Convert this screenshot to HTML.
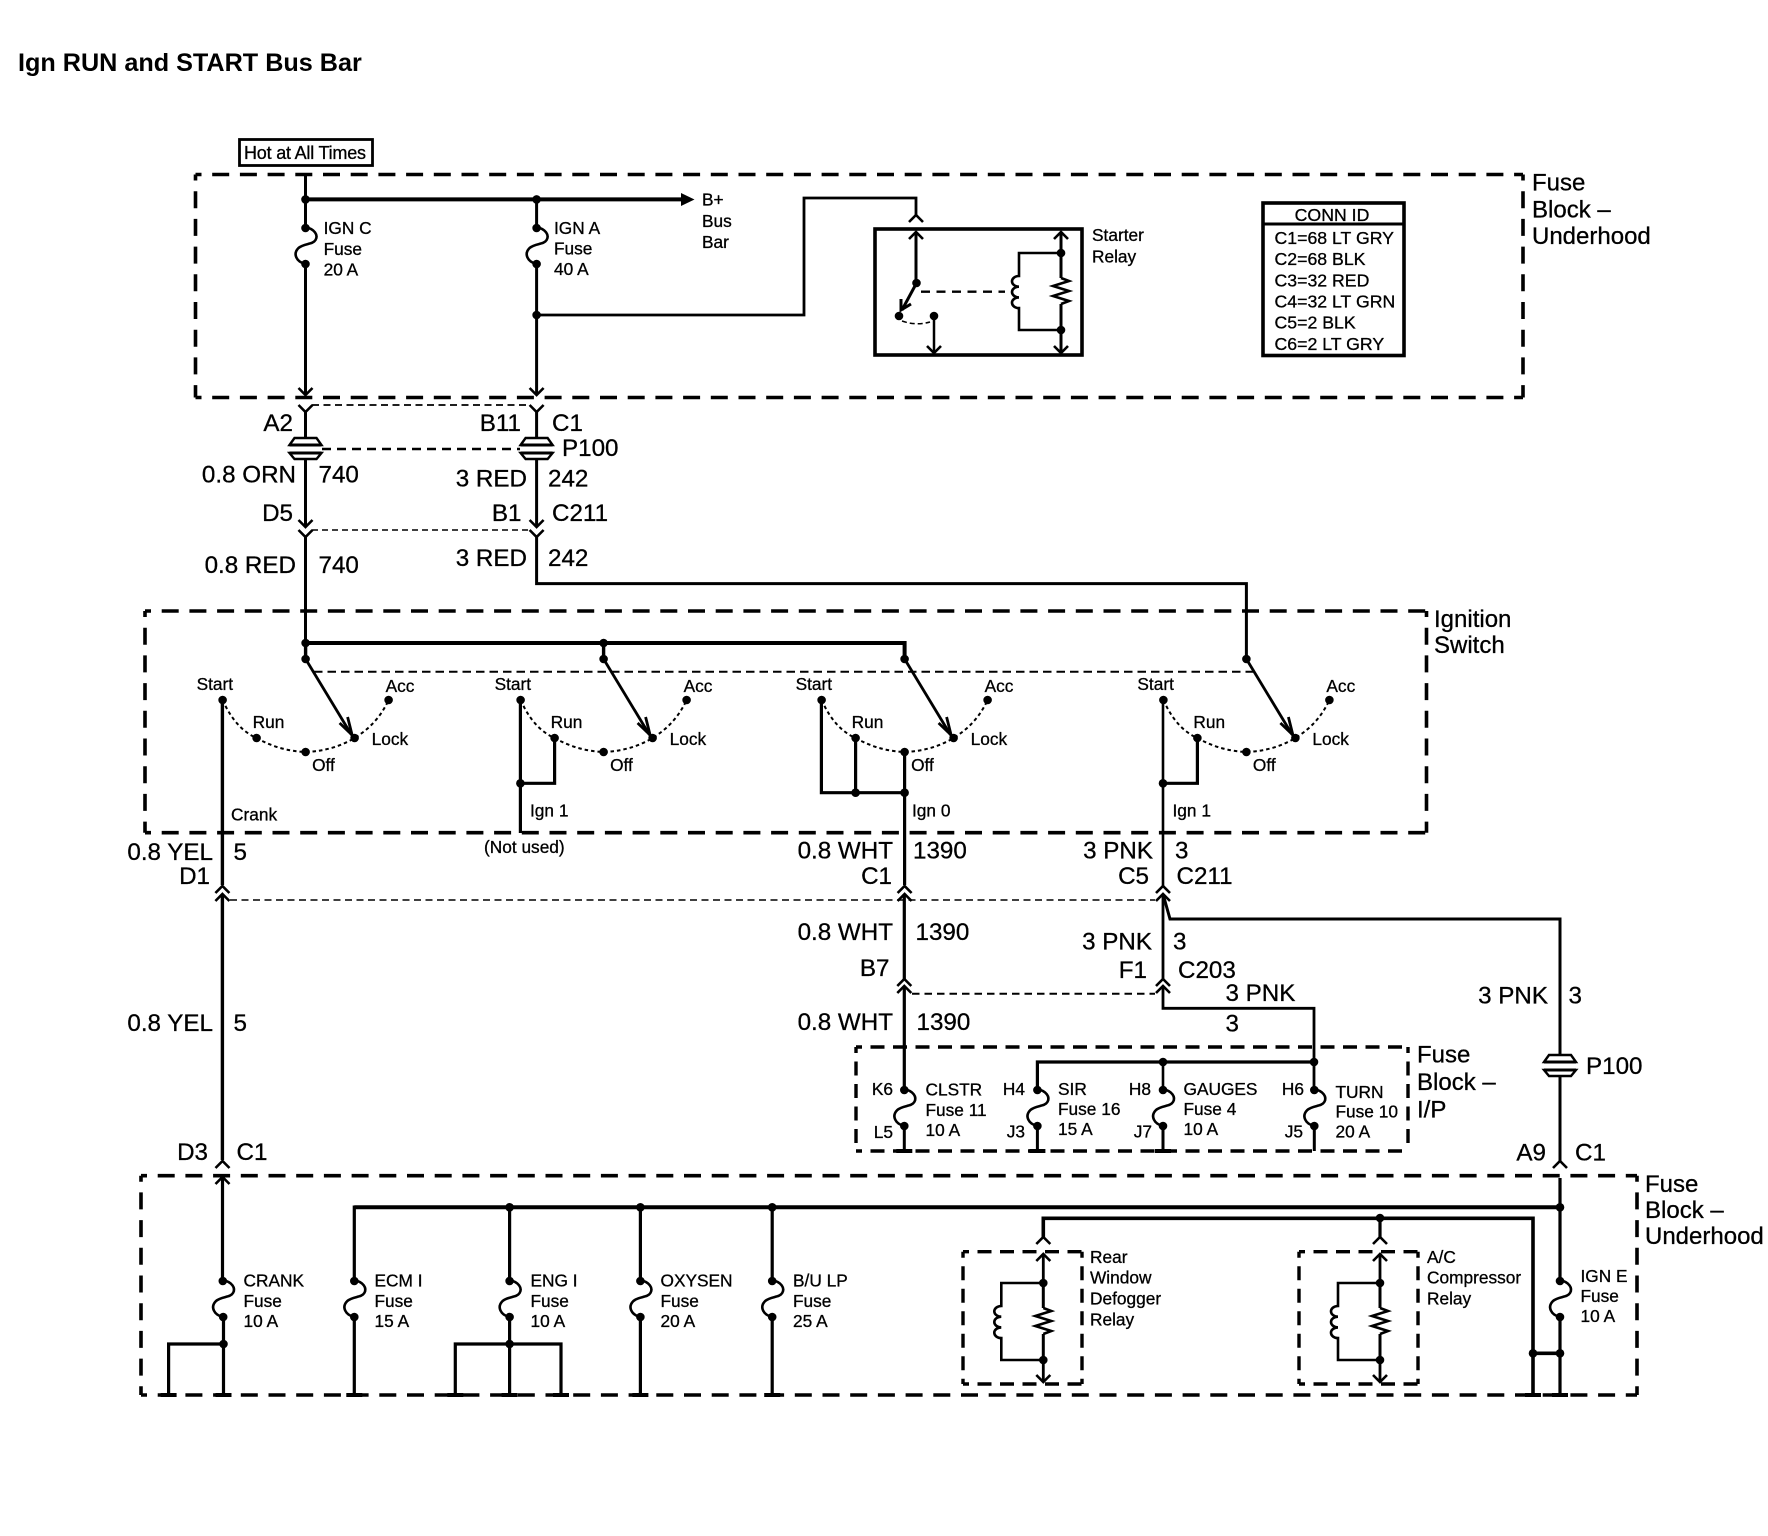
<!DOCTYPE html>
<html><head><meta charset="utf-8"><style>
html,body{margin:0;padding:0;background:#fff}
svg{display:block}
text{font-family:"Liberation Sans",sans-serif;fill:#000;stroke:#000;stroke-width:.3}
.s{font-size:17.3px}.c{font-size:17.7px}.m{font-size:24.2px}.h{font-size:24px}
.e{text-anchor:end}
.t{font-size:25.2px;font-weight:bold;stroke:none}
</style></head><body>
<svg xmlns="http://www.w3.org/2000/svg" width="1768" height="1536" viewBox="0 0 1768 1536">
<defs>
<path id="f" d="M0,-1C9,1 13,7 10,12C7,17 -1,15 -7,20C-13,26 -9,34 0,36" fill="none" stroke="#000" stroke-width="2.6"/>
<path id="u" d="M-7,7L0,0L7,7" fill="none" stroke="#000" stroke-width="2.6"/>
<path id="d" d="M-7,-7L0,0L7,-7" fill="none" stroke="#000" stroke-width="2.6"/>
<path id="y" d="M-7,0L0,7L7,0" fill="none" stroke="#000" stroke-width="2.6"/>
<g id="p"><path d="M-16,445L-11,438H11L16,445Z" fill="#fff" stroke="#000" stroke-width="2.4"/><path d="M-16,453L-11,459H11L16,453Z" fill="#fff" stroke="#000" stroke-width="2.4"/><path d="M-16,445H16M-16,453H16" stroke="#000" stroke-width="3" fill="none"/></g>
<circle id="o" r="4.3" fill="#000"/>
<path id="k" d="M-8,0H8" stroke="#000" stroke-width="4"/>
<g id="sw">
<path d="M-83,700Q-70,729 -49,738Q-26,751 0,752Q27,751 49,738Q72,724 83,700" fill="none" stroke="#000" stroke-width="2" stroke-dasharray="3.5 3"/>
<use href="#o" x="-83" y="700"/><use href="#o" x="-49" y="738"/><use href="#o" x="0" y="752"/><use href="#o" x="49" y="738"/><use href="#o" x="83" y="700"/><use href="#o" x="0" y="659"/>
<path d="M0,659L46,735" fill="none" stroke="#000" stroke-width="2.8"/>
<path d="M34,723L46.5,735L42,717" fill="none" stroke="#000" stroke-width="2.8"/>
<text class="s" x="-109" y="690">Start</text><text class="s" x="-53" y="728">Run</text><text class="s" x="80" y="692">Acc</text><text class="s" x="66" y="745">Lock</text><text class="s" x="6.5" y="771">Off</text>
</g>
<g id="coil">
<path d="M0,-30H-42V-7a7,5.35 0 1 0 0,10.7a7,5.35 0 1 0 0,10.7a7,5.35 0 1 0 0,10.7V47H0" fill="none" stroke="#000" stroke-width="2.6"/>
<path d="M0,-30V-5M0,21V47" fill="none" stroke="#000" stroke-width="3"/>
<path d="M0,-5l8,3l-16,5l16,5l-16,5l16,5l-8,3" fill="none" stroke="#000" stroke-width="2.6"/>
<use href="#o" x="0" y="-30"/><use href="#o" x="0" y="47"/>
</g>
</defs>
<rect width="1768" height="1536" fill="#fff"/>

<text class="t" x="18" y="71">Ign RUN and START Bus Bar</text>

<!-- dashed boxes -->
<g fill="none" stroke="#000" stroke-width="3.6" stroke-dasharray="17 10.7" stroke-dashoffset="11">
<path d="M195.5,174.5H1523M195.5,397.5H1523M195.5,174.5V397.5M1523,174.5V397.5"/>
<path d="M145,611H1426.5M145,832.7H1426.5M145,611V832.7M1426.5,611V832.7"/>
<path d="M141,1175.7H1637M141,1395H1637M141,1175.7V1395M1637,1175.7V1395"/>
</g>
<g fill="none" stroke="#000" stroke-width="3.4" stroke-dasharray="14 8.5" stroke-dashoffset="8">
<path d="M856,1047H1408M856,1151H1408M856,1047V1151M1408,1047V1151"/>
<path d="M963,1251.7H1082M963,1384H1082M963,1251.7V1384M1082,1251.7V1384"/>
<path d="M1299,1251.7H1418M1299,1384H1418M1299,1251.7V1384M1418,1251.7V1384"/>
</g>

<!-- Hot at All Times -->
<rect x="239.5" y="139.5" width="133" height="26" fill="#fff" stroke="#000" stroke-width="2.8"/>
<text x="244" y="159" textLength="122" style="font-size:18px">Hot at All Times</text>

<!-- top block wiring -->
<g fill="none" stroke="#000" stroke-width="3">
<path d="M305.5,174V228M305.5,264V394"/>
<path d="M536.6,199V228M536.6,264V395"/>
<path d="M305.5,199.4H684" stroke-width="4"/>
<path d="M536.6,315H804V198H916V216" stroke-width="2.8"/>
<path d="M305.5,412V438M536.6,412V438M305.5,459V527M536.6,459V527"/>
<path d="M305.5,536V643M536.6,536V583.6H1246.4V659"/>
</g>
<path d="M681,193L694.5,199.5L681,206Z" fill="#000"/>
<use href="#o" x="305.5" y="199.4"/><use href="#o" x="536.6" y="199.4"/><use href="#o" x="536.6" y="315"/>
<use href="#o" x="305.5" y="228"/><use href="#o" x="305.5" y="264"/><use href="#f" x="305.5" y="228"/>
<use href="#o" x="536.6" y="228"/><use href="#o" x="536.6" y="264"/><use href="#f" x="536.6" y="228"/>
<text class="s" x="323.6" y="234">IGN C</text><text class="s" x="323.6" y="255">Fuse</text><text class="s" x="323.6" y="275.5">20 A</text>
<text class="s" x="554" y="234">IGN A</text><text class="s" x="554" y="254.5">Fuse</text><text class="s" x="554" y="275">40 A</text>
<text class="s" x="702" y="205.5">B+</text><text class="s" x="702" y="227">Bus</text><text class="s" x="702" y="248">Bar</text>

<!-- Starter relay -->
<rect x="875" y="229" width="207" height="126" fill="none" stroke="#000" stroke-width="3.6"/>
<use href="#u" x="916" y="215"/><use href="#u" x="916" y="232"/>
<path d="M916,232V283" stroke="#000" stroke-width="3" fill="none"/>
<use href="#o" x="916.5" y="283"/><use href="#o" x="899" y="316"/><use href="#o" x="934" y="316"/>
<path d="M916,284L902,310" stroke="#000" stroke-width="3" fill="none"/>
<path d="M901,299L901,310L911,304" stroke="#000" stroke-width="3" fill="none"/>
<path d="M902,321Q916,326 930,322" fill="none" stroke="#000" stroke-width="1.5" stroke-dasharray="5 3"/>
<path d="M934,316V353" stroke="#000" stroke-width="2.5"/><use href="#d" x="934" y="353"/>
<path d="M921,291.7H1005" stroke="#000" stroke-width="2.4" stroke-dasharray="9 6.5"/>
<path d="M1061,232V253M1061,330V353" stroke="#000" stroke-width="3"/>
<use href="#u" x="1061" y="232"/><use href="#d" x="1061" y="353"/>
<g transform="translate(1061,283)"><use href="#coil"/></g>
<text class="s" x="1092" y="241">Starter</text><text class="s" x="1092" y="262.5">Relay</text>

<!-- CONN ID -->
<rect x="1263" y="203" width="141" height="152.5" fill="none" stroke="#000" stroke-width="3.6"/>
<path d="M1263,224H1404" stroke="#000" stroke-width="3"/>
<text class="c" x="1332" y="221" text-anchor="middle">CONN ID</text>
<text class="c" x="1274.5" y="244">C1=68 LT GRY</text>
<text class="c" x="1274.5" y="265">C2=68 BLK</text>
<text class="c" x="1274.5" y="286.5">C3=32 RED</text>
<text class="c" x="1274.5" y="307.5">C4=32 LT GRN</text>
<text class="c" x="1274.5" y="328.5">C5=2 BLK</text>
<text class="c" x="1274.5" y="350">C6=2 LT GRY</text>

<text class="h" x="1532" y="190.5">Fuse</text><text class="h" x="1532" y="217.5">Block –</text><text class="h" x="1532" y="244">Underhood</text>

<!-- connectors below top block -->
<use href="#d" x="305.5" y="395"/><use href="#d" x="536.6" y="395"/>
<use href="#y" x="305.5" y="405"/><use href="#y" x="536.6" y="405"/>
<path d="M312,405H530" stroke="#000" stroke-width="1.8" stroke-dasharray="7 4.5"/>
<path d="M322,449H520" stroke="#000" stroke-width="2.6" stroke-dasharray="9 6"/>
<use href="#p" x="305.5"/><use href="#p" x="536.6"/>
<text class="m e" x="293" y="431">A2</text><text class="m e" x="521" y="431">B11</text><text class="m" x="552" y="431">C1</text><text class="m" x="562" y="456">P100</text>
<text class="m e" x="296" y="482.5">0.8 ORN</text><text class="m" x="318.5" y="482.5">740</text>
<text class="m e" x="527" y="486.5">3 RED</text><text class="m" x="548" y="486.5">242</text>
<text class="m e" x="293" y="521">D5</text><text class="m e" x="521.5" y="521">B1</text><text class="m" x="552" y="521">C211</text>
<use href="#d" x="305.5" y="527"/><use href="#d" x="536.6" y="527"/>
<use href="#y" x="305.5" y="530"/><use href="#y" x="536.6" y="530"/>
<path d="M312,530H530" stroke="#000" stroke-width="1.5" stroke-dasharray="6 4"/>
<text class="m e" x="296" y="573">0.8 RED</text><text class="m" x="318.5" y="573">740</text>
<text class="m e" x="527" y="566">3 RED</text><text class="m" x="548" y="566">242</text>

<!-- Ignition switch -->
<g fill="none" stroke="#000">
<path d="M305.6,643H904.6V659" stroke-width="4"/>
<path d="M305.6,640V659M603.6,643V659" stroke-width="3.4"/>
<path d="M314,671.7H1253" stroke-width="2" stroke-dasharray="8.5 5"/>
<path d="M222.4,700V885" stroke-width="3.4"/>
<path d="M520.4,700V833M520.4,783.3H554.6V738" stroke-width="3.2"/>
<path d="M821.4,700V792.7H904.6M855.6,738V792.7" stroke-width="3.2"/>
<path d="M904.6,752V885" stroke-width="3.2"/>
<path d="M1163,700V886" stroke-width="2.6"/>
<path d="M1163,783.3H1197.4V738" stroke-width="3.2"/>
</g>
<g transform="translate(305.6,0)"><use href="#sw"/></g>
<g transform="translate(603.6,0)"><use href="#sw"/></g>
<g transform="translate(904.6,0)"><use href="#sw"/></g>
<g transform="translate(1246.4,0)"><use href="#sw"/></g>
<use href="#o" x="305.6" y="643"/><use href="#o" x="603.6" y="643"/>
<use href="#o" x="520.4" y="783.3"/><use href="#o" x="855.6" y="792.7"/><use href="#o" x="904.6" y="792.7"/><use href="#o" x="1163" y="783.3"/>
<text class="s" x="231" y="820.5">Crank</text><text class="s" x="530" y="816.5">Ign 1</text><text class="s" x="484" y="853">(Not used)</text>
<text class="s" x="912" y="816.5">Ign 0</text><text class="s" x="1172.5" y="816.5">Ign 1</text>
<text class="h" x="1434" y="627">Ignition</text><text class="h" x="1434" y="653">Switch</text>

<!-- row under ignition -->
<text class="m e" x="213" y="860">0.8 YEL</text><text class="m" x="233.5" y="860">5</text><text class="m e" x="210" y="884">D1</text>
<text class="m e" x="893" y="858.5">0.8 WHT</text><text class="m" x="913" y="858.5">1390</text><text class="m e" x="892" y="884">C1</text>
<text class="m e" x="1153" y="858.5">3 PNK</text><text class="m" x="1175" y="858.5">3</text><text class="m e" x="1149" y="884">C5</text><text class="m" x="1176.5" y="884">C211</text>
<use href="#u" x="222.4" y="886"/><use href="#u" x="222.4" y="894"/>
<use href="#u" x="904.6" y="886"/><use href="#u" x="904.6" y="894"/>
<use href="#u" x="1163" y="886"/><use href="#u" x="1163" y="894"/>
<path d="M230,900H1155" stroke="#000" stroke-width="1.5" stroke-dasharray="7 4.5"/>
<g fill="none" stroke="#000">
<path d="M222.4,894V1160" stroke-width="3.4"/>
<path d="M904.3,894V979M904.3,986V1090" stroke-width="3.2"/>
<path d="M1163,894V979M1163,986V1008.3H1314V1090" stroke-width="2.8"/>
<path d="M1163,894L1170,919H1560V1056M1560,1075V1161" stroke-width="3"/>
</g>
<text class="m e" x="893" y="940">0.8 WHT</text><text class="m" x="915.5" y="940">1390</text>
<text class="m e" x="1152" y="949.5">3 PNK</text><text class="m" x="1173" y="949.5">3</text>
<text class="m e" x="889.5" y="976">B7</text><text class="m e" x="1147" y="978">F1</text><text class="m" x="1178" y="978">C203</text>
<use href="#u" x="904.3" y="979"/><use href="#u" x="904.3" y="986"/><use href="#u" x="1163" y="979"/><use href="#u" x="1163" y="986"/>
<path d="M912,993.7H1155" stroke="#000" stroke-width="2" stroke-dasharray="7.5 5"/>
<text class="m" x="1225.5" y="1001">3 PNK</text><text class="m" x="1225.5" y="1031.5">3</text>
<text class="m e" x="893" y="1030">0.8 WHT</text><text class="m" x="916.5" y="1030">1390</text>
<text class="m e" x="1548" y="1003.5">3 PNK</text><text class="m" x="1568.5" y="1003.5">3</text>
<text class="m e" x="213" y="1031">0.8 YEL</text><text class="m" x="233.5" y="1031">5</text>
<g transform="translate(1560,617)"><use href="#p"/></g>
<text class="m" x="1586" y="1074">P100</text>

<!-- Fuse block IP -->
<path d="M1037.4,1090V1062H1314" fill="none" stroke="#000" stroke-width="3.2"/>
<path d="M1163,1062V1090" fill="none" stroke="#000" stroke-width="2.6"/>
<path d="M904.3,1126V1151M1037.4,1126V1151M1163,1126V1151M1314.3,1126V1151" stroke="#000" stroke-width="3"/>
<use href="#o" x="1163" y="1062"/><use href="#o" x="1314" y="1062"/>
<use href="#o" x="904.3" y="1090"/><use href="#o" x="904.3" y="1126"/><use href="#f" x="904.3" y="1090"/>
<use href="#o" x="1037.4" y="1090"/><use href="#o" x="1037.4" y="1126"/><use href="#f" x="1037.4" y="1090"/>
<use href="#o" x="1163" y="1090"/><use href="#o" x="1163" y="1126"/><use href="#f" x="1163" y="1090"/>
<use href="#o" x="1314.3" y="1090"/><use href="#o" x="1314.3" y="1126"/><use href="#f" x="1314.3" y="1090"/>
<text class="s e" x="893" y="1095">K6</text><text class="s e" x="893" y="1138">L5</text>
<text class="s" x="925.5" y="1095.5">CLSTR</text><text class="s" x="925.5" y="1116">Fuse 11</text><text class="s" x="925.5" y="1136">10 A</text>
<text class="s e" x="1025" y="1095">H4</text><text class="s e" x="1025" y="1137.5">J3</text>
<text class="s" x="1058" y="1095">SIR</text><text class="s" x="1058" y="1115">Fuse 16</text><text class="s" x="1058" y="1135">15 A</text>
<text class="s e" x="1151" y="1095">H8</text><text class="s e" x="1152" y="1137.5">J7</text>
<text class="s" x="1183.5" y="1095">GAUGES</text><text class="s" x="1183.5" y="1115">Fuse 4</text><text class="s" x="1183.5" y="1135">10 A</text>
<text class="s e" x="1304" y="1095">H6</text><text class="s e" x="1303" y="1137.5">J5</text>
<text class="s" x="1335.5" y="1098">TURN</text><text class="s" x="1335.5" y="1117.5">Fuse 10</text><text class="s" x="1335.5" y="1137.5">20 A</text>
<text class="h" x="1417" y="1062.5">Fuse</text><text class="h" x="1417" y="1090">Block –</text><text class="h" x="1417" y="1117.5">I/P</text>

<!-- Bottom block -->
<text class="m e" x="208" y="1160">D3</text><text class="m" x="236.5" y="1160">C1</text>
<text class="m e" x="1546" y="1160.5">A9</text><text class="m" x="1575" y="1160.5">C1</text>
<use href="#u" x="222.5" y="1161"/><use href="#u" x="222.5" y="1177"/>
<use href="#u" x="1560" y="1161"/>
<g fill="none" stroke="#000" stroke-width="3.2">
<path d="M222.5,1177V1281M223.5,1317V1395M223.5,1344H168.6V1395"/>
<path d="M354.3,1207.3H1560" stroke-width="4"/>
<path d="M354.3,1205.5V1281M354.3,1317V1395"/>
<path d="M509.6,1207V1281M509.6,1317V1395M455.3,1395V1344H561V1395"/>
<path d="M640.4,1207V1281M640.4,1317V1395"/>
<path d="M772.2,1207V1281M772.2,1317V1395"/>
<path d="M1560,1178V1281M1560,1317V1395"/>
<path d="M1043.3,1237V1218.3H1533V1395" stroke-width="3.6"/>
<path d="M1380,1218V1237"/>
<path d="M1533,1353.3H1560" stroke-width="3.6"/>
<path d="M1043.3,1254V1283M1043.3,1360V1382M1380,1254V1283M1380,1360V1382" stroke-width="2.8"/>
</g>
<use href="#o" x="509.6" y="1207.3"/><use href="#o" x="640.4" y="1207.3"/><use href="#o" x="772.2" y="1207.3"/><use href="#o" x="1560" y="1207.3"/><use href="#o" x="1380" y="1218"/>
<use href="#o" x="223.5" y="1344"/><use href="#o" x="509.6" y="1344"/><use href="#o" x="1533" y="1353.3"/><use href="#o" x="1560" y="1353.3"/>
<use href="#o" x="222.8" y="1281"/><use href="#o" x="223.2" y="1317"/><use href="#f" x="223" y="1281"/>
<use href="#o" x="354.3" y="1281"/><use href="#o" x="354.3" y="1317"/><use href="#f" x="354.3" y="1281"/>
<use href="#o" x="509.6" y="1281"/><use href="#o" x="509.6" y="1317"/><use href="#f" x="509.6" y="1281"/>
<use href="#o" x="640.4" y="1281"/><use href="#o" x="640.4" y="1317"/><use href="#f" x="640.4" y="1281"/>
<use href="#o" x="772.2" y="1281"/><use href="#o" x="772.2" y="1317"/><use href="#f" x="772.2" y="1281"/>
<use href="#o" x="1560" y="1281"/><use href="#o" x="1560" y="1317"/><use href="#f" x="1560" y="1281"/>
<use href="#k" x="168.6" y="1395"/><use href="#k" x="223.5" y="1395"/><use href="#k" x="354.3" y="1395"/><use href="#k" x="455.3" y="1395"/><use href="#k" x="509.6" y="1395"/><use href="#k" x="561" y="1395"/><use href="#k" x="640.4" y="1395"/><use href="#k" x="772.2" y="1395"/><use href="#k" x="1533" y="1395"/><use href="#k" x="1560" y="1395"/>
<use href="#k" x="904.3" y="1151"/><use href="#k" x="1037.4" y="1151"/><use href="#k" x="1163" y="1151"/>

<text class="s" x="243.5" y="1286.5">CRANK</text><text class="s" x="243.5" y="1307">Fuse</text><text class="s" x="243.5" y="1327">10 A</text>
<text class="s" x="374.5" y="1286.5">ECM I</text><text class="s" x="374.5" y="1307">Fuse</text><text class="s" x="374.5" y="1327">15 A</text>
<text class="s" x="530.5" y="1286.5">ENG I</text><text class="s" x="530.5" y="1307">Fuse</text><text class="s" x="530.5" y="1327">10 A</text>
<text class="s" x="660.5" y="1286.5">OXYSEN</text><text class="s" x="660.5" y="1307">Fuse</text><text class="s" x="660.5" y="1327">20 A</text>
<text class="s" x="793" y="1286.5">B/U LP</text><text class="s" x="793" y="1307">Fuse</text><text class="s" x="793" y="1327">25 A</text>
<text class="s" x="1580.5" y="1282">IGN E</text><text class="s" x="1580.5" y="1302">Fuse</text><text class="s" x="1580.5" y="1322">10 A</text>

<use href="#u" x="1043.3" y="1237"/><use href="#u" x="1043.3" y="1254"/><use href="#d" x="1043.3" y="1382"/>
<use href="#u" x="1380" y="1237"/><use href="#u" x="1380" y="1254"/><use href="#d" x="1380" y="1382"/>
<g transform="translate(1043.3,1313)"><use href="#coil"/></g>
<g transform="translate(1380,1313)"><use href="#coil"/></g>
<text class="s" x="1090" y="1263">Rear</text><text class="s" x="1090" y="1283.5">Window</text><text class="s" x="1090" y="1304.5">Defogger</text><text class="s" x="1090" y="1325.5">Relay</text>
<text class="s" x="1427" y="1263">A/C</text><text class="s" x="1427" y="1283.5">Compressor</text><text class="s" x="1427" y="1304.5">Relay</text>
<text class="h" x="1645" y="1192">Fuse</text><text class="h" x="1645" y="1218">Block –</text><text class="h" x="1645" y="1244">Underhood</text>
</svg>
</body></html>
